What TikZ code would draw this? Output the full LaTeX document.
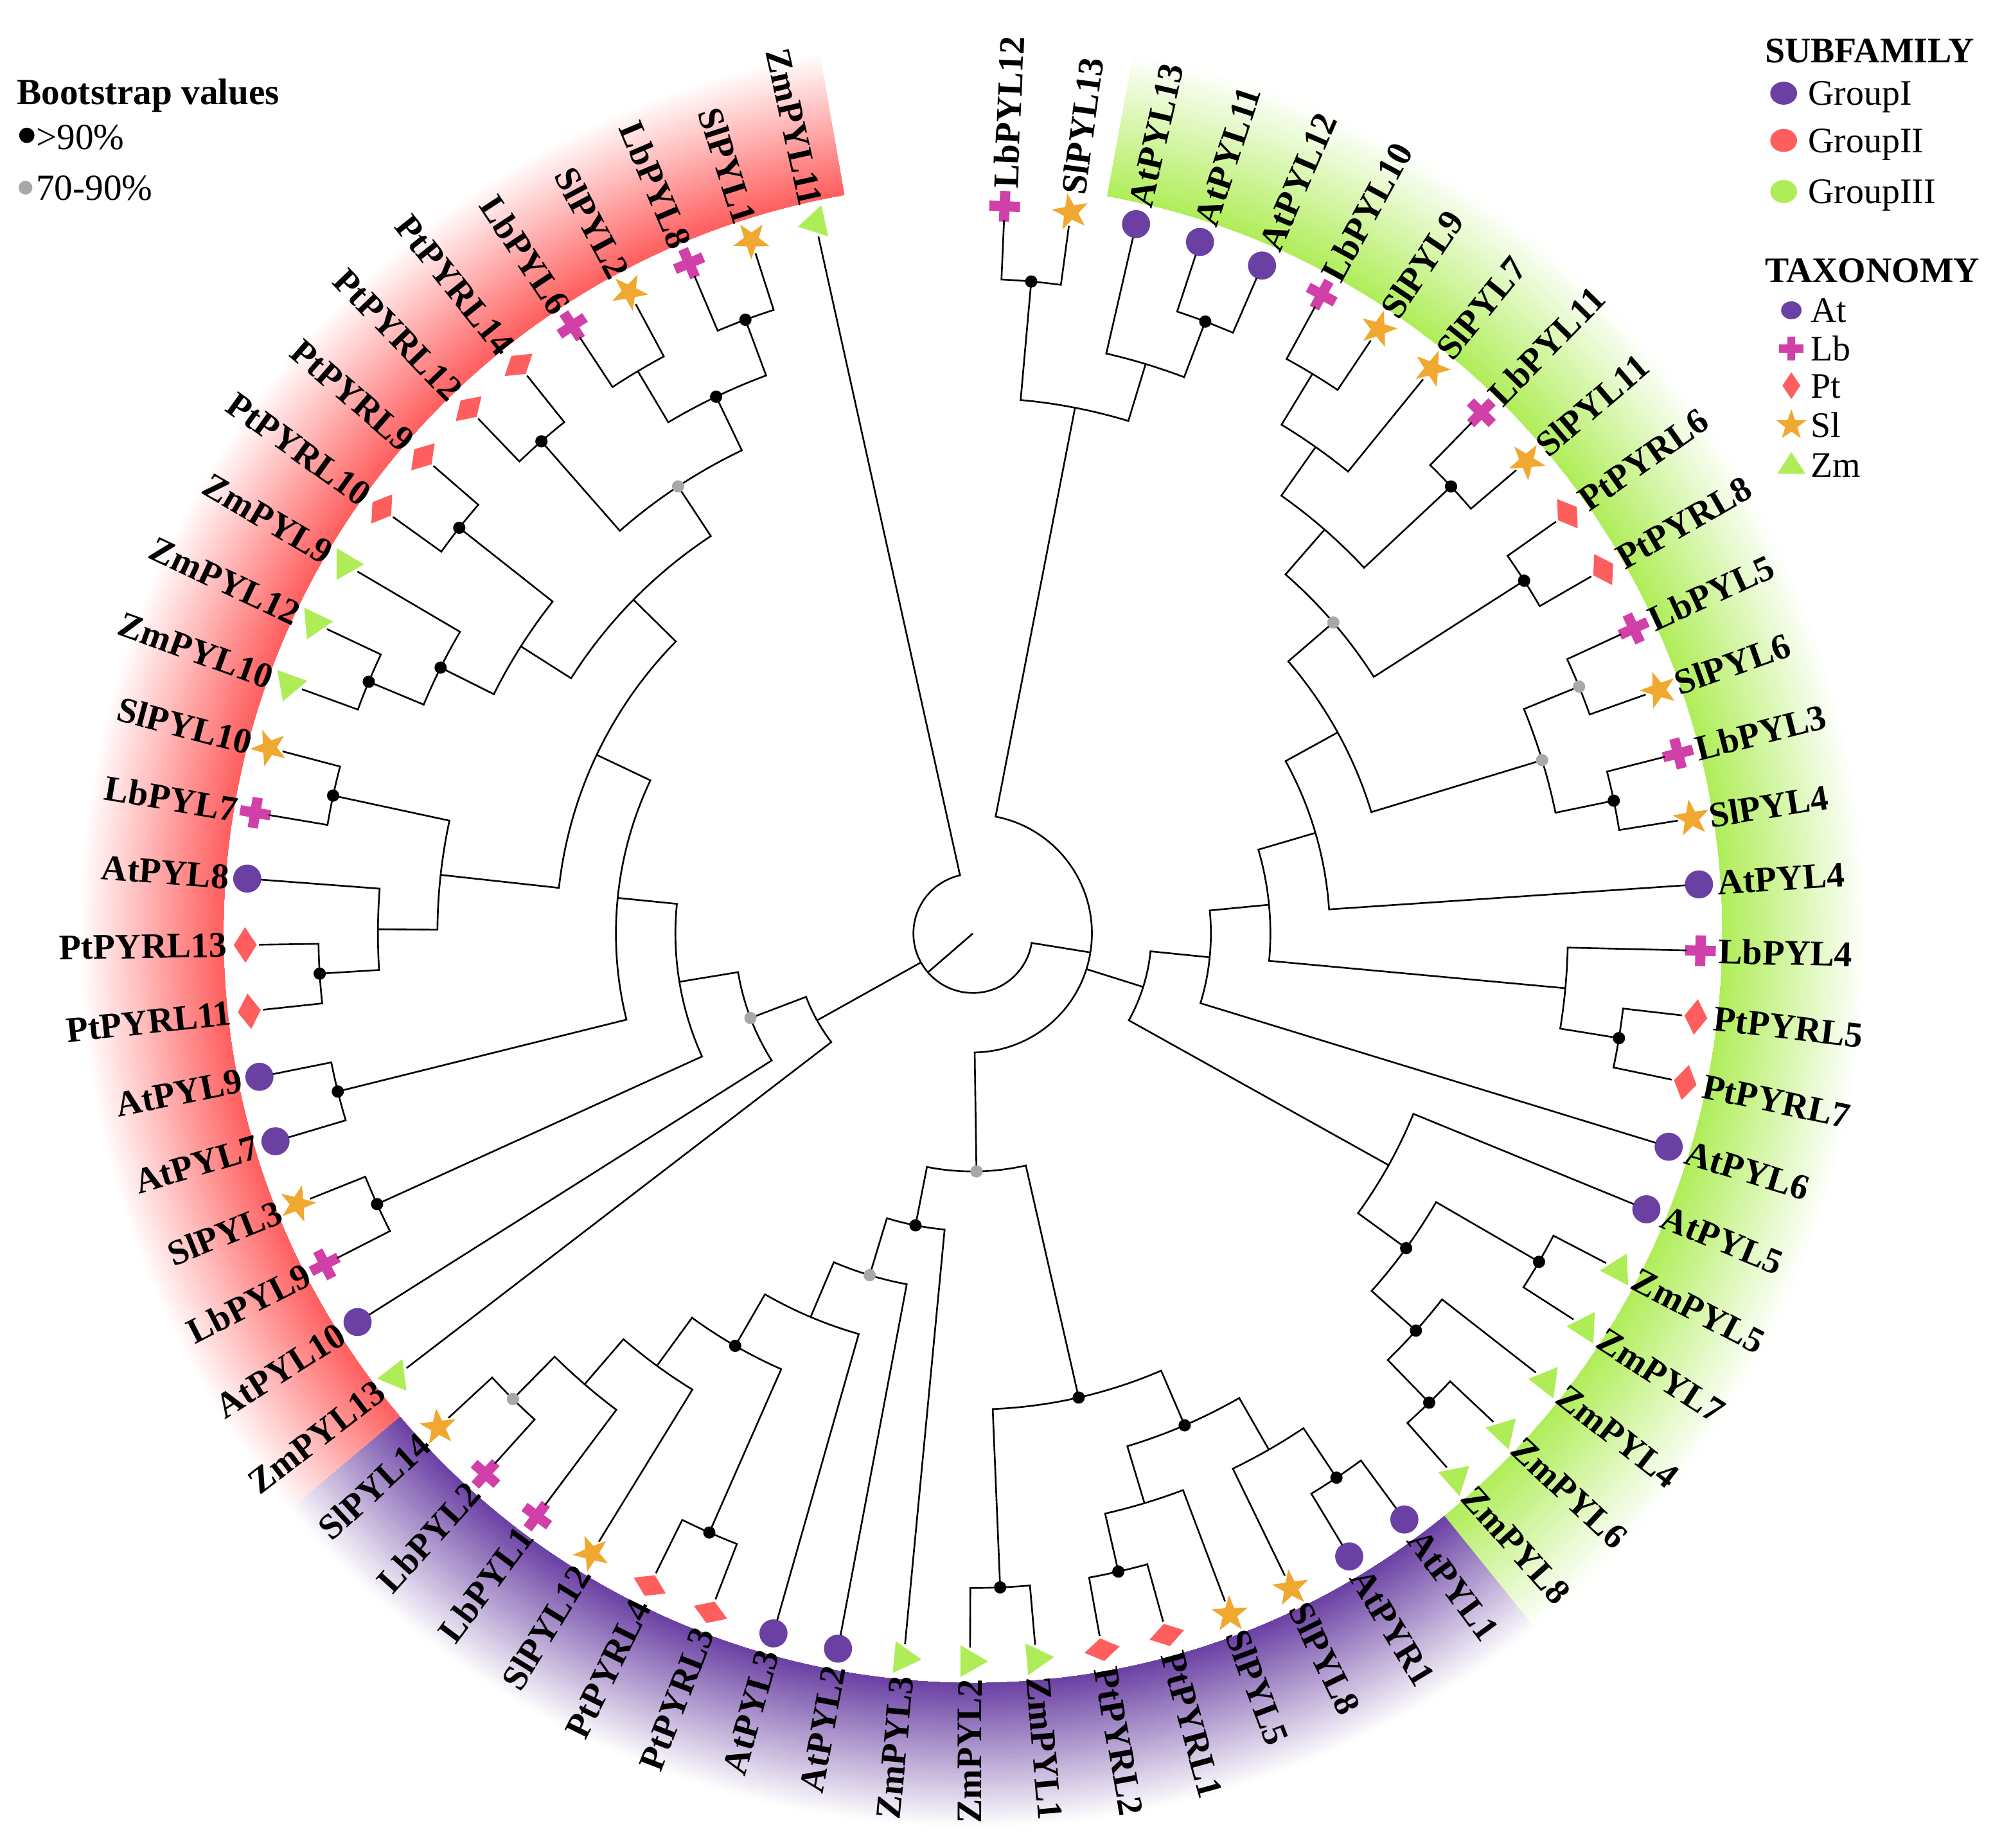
\documentclass[tikz,border=0pt]{standalone}
\usepackage{fontspec}
\setmainfont{Liberation Serif}
\definecolor{cAt}{RGB}{106,64,163}
\definecolor{cLb}{RGB}{208,64,168}
\definecolor{cPt}{RGB}{255,94,94}
\definecolor{cSl}{RGB}{240,168,48}
\definecolor{cZm}{RGB}{175,237,88}
\definecolor{bsGrey}{RGB}{168,168,168}
\newcommand\setang[2]{\pgfmathsetmacro\myTmp{#2}\expandafter\xdef\csname tang#1\endcsname{\myTmp}}
\newcommand\setrad[2]{\pgfmathsetmacro\myTmp{#2}\expandafter\xdef\csname trad#1\endcsname{\myTmp}}
\newcommand\TA[1]{\csname tang#1\endcsname}
\newcommand\TR[1]{\csname trad#1\endcsname}
\newcommand\unitStep{46.6}
\newcommand\mAt{\fill[cAt] (0,0) circle[radius=11];}
\newcommand\mLb{\fill[cLb] (-12,-4) rectangle (12,4); \fill[cLb] (-4,-12) rectangle (4,12);}
\newcommand\mPt{\fill[cPt] (0,14) -- (9,0) -- (0,-14) -- (-9,0) -- cycle;}
\newcommand\mSl{\fill[cSl] (90:15) -- (126:6) -- (162:15) -- (198:6) -- (234:15) -- (270:6) -- (306:15) -- (342:6) -- (18:15) -- (54:6) -- cycle;}
\newcommand\mZm{\fill[cZm] (0,14) -- (-12.5,-7.5) -- (12.5,-7.5) -- cycle;}
\newcommand\leaf[3]{%
  \setang{l#1}{87.5-5.227273*#1}%
  \setrad{l#1}{12*\unitStep}%
  \coordinate (l#1) at (\TA{l#1}:\TR{l#1});%
  \begin{scope}[shift={(\TA{l#1}:570)},rotate=\TA{l#1}]#3\end{scope}%
  \pgfmathtruncatemacro\isLeft{\TA{l#1}<-90}%
  \ifnum\isLeft=1
    \node[lab,anchor=east,rotate=\TA{l#1}+180] (t#1) at (\TA{l#1}:584) {#2};%
  \else
    \node[lab,anchor=west,rotate=\TA{l#1}] (t#1) at (\TA{l#1}:584) {#2};%
  \fi}
\newcommand\ctwo[4]{%
  \setang{#1}{(\TA{#3}+\TA{#4})/2}%
  \setrad{#1}{\unitStep*#2}%
  \draw[tree] (#3) -- (\TA{#3}:\TR{#1}) arc[start angle=\TA{#3}, end angle=\TA{#4}, radius=\TR{#1}] -- (#4);%
  \coordinate (#1) at (\TA{#1}:\TR{#1});}
\newcommand\bsdot[2]{\fill[#2] (#1) circle[radius=4.8];}
\newcommand\band[3]{\foreach \k in {1,...,40}{\pgfmathsetmacro\ro{587+(41-\k)*2.825}\pgfmathsetmacro\pc{100*(\k-0.5)/40}\fill[#1!\pc!white] (#2:587) arc[start angle=#2,end angle=#3,radius=587] -- (#3:\ro) arc[start angle=#3,end angle=#2,radius=\ro] -- cycle;}}
\begin{document}
\begin{tikzpicture}[x=0.02cm,y=0.02cm,
  lab/.style={font=\fontsize{16}{19}\selectfont\bfseries, inner sep=0pt},
  tree/.style={line width=0.75pt, draw=black},
  legtxt/.style={font=\fontsize{16}{19}\selectfont, inner sep=0pt, anchor=base west},
  legttl/.style={font=\fontsize{16}{19}\selectfont\bfseries, inner sep=0pt, anchor=base west}]
\useasboundingbox (-762,-716) rectangle (806,731);
\fill[white] (-762,-716) rectangle (806,731);
% bands
\band{cZm}{79.659}{-51.023}
\band{cAt}{-51.023}{-139.886}
\band{cPt}{-139.886}{-260.114}
% leaves
\leaf{0}{LbPYL12}{\mLb}
\leaf{1}{SlPYL13}{\mSl}
\leaf{2}{AtPYL13}{\mAt}
\leaf{3}{AtPYL11}{\mAt}
\leaf{4}{AtPYL12}{\mAt}
\leaf{5}{LbPYL10}{\mLb}
\leaf{6}{SlPYL9}{\mSl}
\leaf{7}{SlPYL7}{\mSl}
\leaf{8}{LbPYL11}{\mLb}
\leaf{9}{SlPYL11}{\mSl}
\leaf{10}{PtPYRL6}{\mPt}
\leaf{11}{PtPYRL8}{\mPt}
\leaf{12}{LbPYL5}{\mLb}
\leaf{13}{SlPYL6}{\mSl}
\leaf{14}{LbPYL3}{\mLb}
\leaf{15}{SlPYL4}{\mSl}
\leaf{16}{AtPYL4}{\mAt}
\leaf{17}{LbPYL4}{\mLb}
\leaf{18}{PtPYRL5}{\mPt}
\leaf{19}{PtPYRL7}{\mPt}
\leaf{20}{AtPYL6}{\mAt}
\leaf{21}{AtPYL5}{\mAt}
\leaf{22}{ZmPYL5}{\mZm}
\leaf{23}{ZmPYL7}{\mZm}
\leaf{24}{ZmPYL4}{\mZm}
\leaf{25}{ZmPYL6}{\mZm}
\leaf{26}{ZmPYL8}{\mZm}
\leaf{27}{AtPYL1}{\mAt}
\leaf{28}{AtPYR1}{\mAt}
\leaf{29}{SlPYL8}{\mSl}
\leaf{30}{SlPYL5}{\mSl}
\leaf{31}{PtPYRL1}{\mPt}
\leaf{32}{PtPYRL2}{\mPt}
\leaf{33}{ZmPYL1}{\mZm}
\leaf{34}{ZmPYL2}{\mZm}
\leaf{35}{ZmPYL3}{\mZm}
\leaf{36}{AtPYL2}{\mAt}
\leaf{37}{AtPYL3}{\mAt}
\leaf{38}{PtPYRL3}{\mPt}
\leaf{39}{PtPYRL4}{\mPt}
\leaf{40}{SlPYL12}{\mSl}
\leaf{41}{LbPYL1}{\mLb}
\leaf{42}{LbPYL2}{\mLb}
\leaf{43}{SlPYL14}{\mSl}
\leaf{44}{ZmPYL13}{\mZm}
\leaf{45}{AtPYL10}{\mAt}
\leaf{46}{LbPYL9}{\mLb}
\leaf{47}{SlPYL3}{\mSl}
\leaf{48}{AtPYL7}{\mAt}
\leaf{49}{AtPYL9}{\mAt}
\leaf{50}{PtPYRL11}{\mPt}
\leaf{51}{PtPYRL13}{\mPt}
\leaf{52}{AtPYL8}{\mAt}
\leaf{53}{LbPYL7}{\mLb}
\leaf{54}{SlPYL10}{\mSl}
\leaf{55}{ZmPYL10}{\mZm}
\leaf{56}{ZmPYL12}{\mZm}
\leaf{57}{ZmPYL9}{\mZm}
\leaf{58}{PtPYRL10}{\mPt}
\leaf{59}{PtPYRL9}{\mPt}
\leaf{60}{PtPYRL12}{\mPt}
\leaf{61}{PtPYRL14}{\mPt}
\leaf{62}{LbPYL6}{\mLb}
\leaf{63}{SlPYL2}{\mSl}
\leaf{64}{LbPYL8}{\mLb}
\leaf{65}{SlPYL1}{\mSl}
\leaf{66}{ZmPYL11}{\mZm}
% top clade
\ctwo{n01}{11}{l0}{l1}
\ctwo{n34}{11}{l3}{l4}
\ctwo{n234}{10}{l2}{n34}
\ctwo{T}{9}{n01}{n234}
% right clade
\ctwo{n56}{11}{l5}{l6}
\ctwo{n567}{10}{n56}{l7}
\ctwo{n89}{11}{l8}{l9}
\ctwo{n59}{9}{n567}{n89}
\ctwo{n1011}{11}{l10}{l11}
\ctwo{G1}{8}{n59}{n1011}
\ctwo{n1213}{11}{l12}{l13}
\ctwo{n1415}{11}{l14}{l15}
\ctwo{Q}{10}{n1213}{n1415}
\ctwo{H}{7}{G1}{Q}
\ctwo{I}{6}{H}{l16}
\ctwo{n1819}{11}{l18}{l19}
\ctwo{K}{10}{l17}{n1819}
\ctwo{J}{5}{I}{K}
\ctwo{M}{4}{J}{l20}
\ctwo{n2223}{11}{l22}{l23}
\ctwo{n2526}{11}{l25}{l26}
\ctwo{n24}{10}{l24}{n2526}
\ctwo{Sp}{9}{n2223}{n24}
\ctwo{S}{8}{l21}{Sp}
\ctwo{R}{3}{M}{S}
% bottom clade
\ctwo{n2728}{11}{l27}{l28}
\ctwo{Na}{10}{n2728}{l29}
\ctwo{n3132}{11}{l31}{l32}
\ctwo{Nb}{10}{l30}{n3132}
\ctwo{P}{9}{Na}{Nb}
\ctwo{n3334}{11}{l33}{l34}
\ctwo{U}{8}{P}{n3334}
\ctwo{n3839}{11}{l38}{l39}
\ctwo{n4243}{11}{l42}{l43}
\ctwo{Wp}{10}{l41}{n4243}
\ctwo{W}{9}{l40}{Wp}
\ctwo{V3}{8}{n3839}{W}
\ctwo{V2}{7}{l37}{V3}
\ctwo{V1}{6}{l36}{V2}
\ctwo{V}{5}{l35}{V1}
\ctwo{B}{4}{U}{V}
% N1
\setang{N1}{(\TA{T}+\TA{R}+\TA{B})/3}
\setrad{N1}{2*\unitStep}
\draw[tree] (T) -- (\TA{T}:\TR{N1}) arc[start angle=\TA{T}, end angle=\TA{B}, radius=\TR{N1}] -- (B);
\draw[tree] (\TA{R}:\TR{N1}) -- (R);
\coordinate (N1) at (\TA{N1}:\TR{N1});
% left clade
\ctwo{n4647}{11}{l46}{l47}
\ctwo{n4849}{11}{l48}{l49}
\ctwo{n5051}{11}{l50}{l51}
\ctwo{n5052}{10}{n5051}{l52}
\ctwo{n5354}{11}{l53}{l54}
\ctwo{L6}{9}{n5052}{n5354}
\ctwo{n5556}{11}{l55}{l56}
\ctwo{n5557}{10}{n5556}{l57}
\ctwo{n5859}{11}{l58}{l59}
\ctwo{L8}{9}{n5557}{n5859}
\ctwo{n6061}{11}{l60}{l61}
\ctwo{n6263}{11}{l62}{l63}
\ctwo{n6465}{11}{l64}{l65}
\ctwo{X}{10}{n6263}{n6465}
\ctwo{Y}{9}{n6061}{X}
\ctwo{L7}{8}{L8}{Y}
\ctwo{L5}{7}{L6}{L7}
\ctwo{L4}{6}{n4849}{L5}
\ctwo{L3}{5}{n4647}{L4}
\ctwo{L2}{4}{l45}{L3}
\ctwo{L}{3}{l44}{L2}
% root
\setang{root}{(\TA{N1}+\TA{L}+\TA{l66})/3}
\setrad{root}{\unitStep}
\draw[tree] (N1) -- (\TA{N1}:\TR{root}) arc[start angle=\TA{N1}, end angle=\TA{l66}, radius=\TR{root}] -- (l66);
\draw[tree] (\TA{L}:\TR{root}) -- (L);
\coordinate (root) at (\TA{root}:\TR{root});
\coordinate (origin) at (0,0);
\draw[tree] (origin) -- (root);
% bootstrap dots
\foreach \n in {n01,n34,n89,n1011,n1415,n1819,n2223,n2526,n24,Sp,n2728,P,n3132,n3334,U,n3839,V3,V,n4647,n4849,n5051,n5354,n5556,n5557,n5859,n6061,n6465,X}{\bsdot{\n}{black}}
\foreach \n in {G1,n1213,Q,B,V1,n4243,L2,Y}{\bsdot{\n}{bsGrey}}
% bootstrap legend
\node[legttl, font=\fontsize{16.4}{19}\selectfont\bfseries] (bstitle) at (-749,649) {Bootstrap values};
\fill[black] (-741,625) circle[radius=6];
\node[legtxt, font=\fontsize{16.4}{19}\selectfont] (bshigh) at (-734,614) {>90\%};
\fill[bsGrey] (-742,584) circle[radius=5.4];
\node[legtxt, font=\fontsize{16.4}{19}\selectfont] (bsmid) at (-734,574) {70-90\%};
% subfamily legend
\node[legttl] (subfam) at (620,682) {SUBFAMILY};
\fill[cAt] (635,658) ellipse[x radius=10.5, y radius=9];
\node[legtxt] (gI) at (654,648.5) {GroupI};
\fill[cPt] (635,621) ellipse[x radius=10.5, y radius=9];
\node[legtxt] (gII) at (654,611.5) {GroupII};
\fill[cZm] (635,581) ellipse[x radius=10.5, y radius=9];
\node[legtxt] (gIII) at (654,571.5) {GroupIII};
% taxonomy legend
\node[legttl] (taxo) at (620,510) {TAXONOMY};
\fill[cAt] (641,488) ellipse[x radius=8, y radius=7];
\node[legtxt] (tAt) at (656,478.5) {At};
\begin{scope}[shift={(641,458)}]
\fill[cLb] (-9.5,-3.2) rectangle (9.5,3.2); \fill[cLb] (-3.2,-9.5) rectangle (3.2,9.5);
\end{scope}
\node[legtxt] (tLb) at (656,448.5) {Lb};
\fill[cPt] (641,439.5) -- (648,429) -- (641,418.5) -- (634,429) -- cycle;
\node[legtxt] (tPt) at (656,419.5) {Pt};
\begin{scope}[shift={(641,398)}]
\fill[cSl] (90:12.5) -- (126:5) -- (162:12.5) -- (198:5) -- (234:12.5) -- (270:5) -- (306:12.5) -- (342:5) -- (18:12.5) -- (54:5) -- cycle;
\end{scope}
\node[legtxt] (tSl) at (656,388.5) {Sl};
\fill[cZm] (641,377) -- (630,360) -- (652,360) -- cycle;
\node[legtxt] (tZm) at (656,357.5) {Zm};
\end{tikzpicture}
\end{document}
